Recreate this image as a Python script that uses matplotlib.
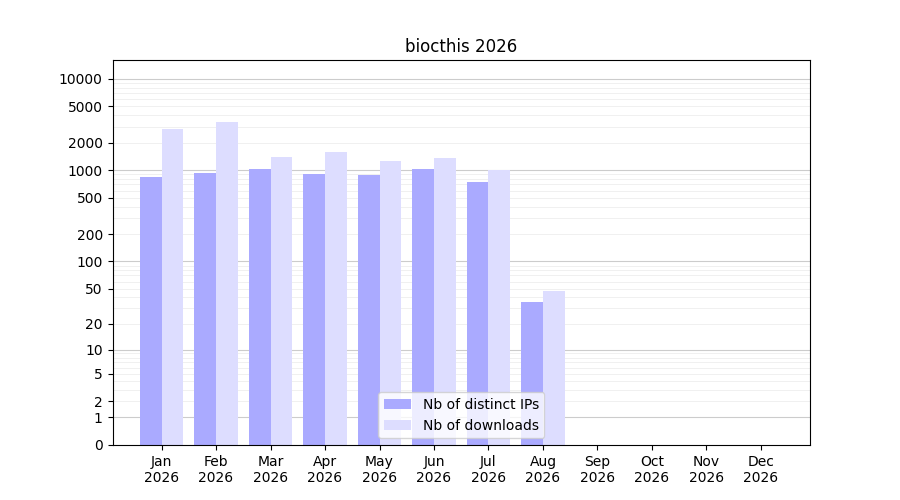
import matplotlib
matplotlib.use("Agg")
import matplotlib.pyplot as plt
import numpy as np

months = ["Jan\n2026", "Feb\n2026", "Mar\n2026", "Apr\n2026", "May\n2026", "Jun\n2026",
          "Jul\n2026", "Aug\n2026", "Sep\n2026", "Oct\n2026", "Nov\n2026", "Dec\n2026"]
ips = [850, 930, 1030, 910, 880, 1030, 750, 35, 0, 0, 0, 0]
downloads = [2800, 3400, 1400, 1600, 1250, 1350, 1000, 47, 0, 0, 0, 0]
yticks = [0, 1, 2, 5, 10, 20, 50, 100, 200, 500, 1000, 2000, 5000, 10000]

fig, ax = plt.subplots(figsize=(9, 5), dpi=100)
ax.set_yscale("function", functions=(lambda v: np.log10(1 + np.maximum(v, 0)),
                                     lambda v: 10 ** v - 1))
x = np.arange(len(months))
w = 0.4
ax.bar(x - w / 2, ips, w, color="#aaaaff", label="Nb of distinct IPs", zorder=2)
ax.bar(x + w / 2, downloads, w, color="#ddddff", label="Nb of downloads", zorder=2)

for d in [1, 10, 100, 1000, 10000]:
    ax.axhline(d, color="#cccccc", lw=0.8, zorder=1)
for d in [1, 10, 100, 1000, 10000]:
    for k in range(2, 10):
        ax.axhline(d * k, color="#eeeeee", lw=0.6, zorder=1)

ax.set_ylim(0, 16000)
ax.set_yticks(yticks)
ax.set_yticklabels([str(t) for t in yticks])
ax.minorticks_off()
ax.set_xticks(x)
ax.set_xticklabels(months)
ax.set_xlim(-0.9, 11.9)
ax.set_title("biocthis 2026")
ax.legend(loc="lower center")
fig.savefig("out.png")
